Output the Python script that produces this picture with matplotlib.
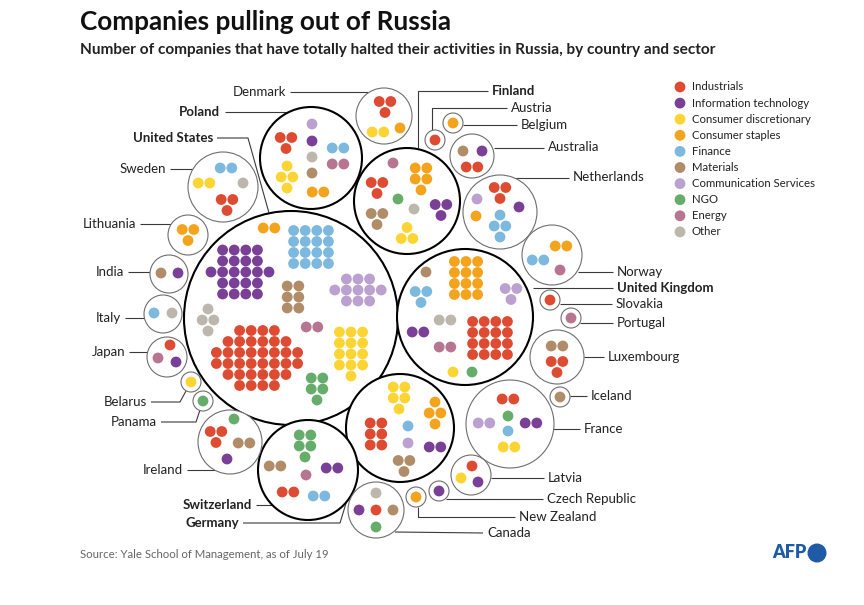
import matplotlib
matplotlib.use("Agg")
import matplotlib.pyplot as plt
from matplotlib.patches import Circle
import numpy as np

plt.rcParams['font.family'] = ['Lato', 'DejaVu Sans']

# ---------------- data ----------------
sectors = ["Industrials", "Information technology", "Consumer discretionary",
           "Consumer staples", "Finance", "Materials", "Communication Services",
           "NGO", "Energy", "Other"]
sector_colors = ["#dc4b32", "#7a3f96", "#fcd535", "#f4a31c", "#7db8de",
                 "#b18c69", "#baa1cf", "#66ad6b", "#b87591", "#bdb6ac"]

# counts per sector, in the order of `sectors`
#                 IND IT  CD  CS FIN MAT COM NGO EN OTH
united_states  = [36, 22, 13, 2, 16, 6, 11, 5, 2, 4]
united_kingdom = [16, 2, 1, 12, 3, 1, 3, 1, 2, 2]
poland         = [3, 1, 4, 2, 2, 1, 1, 0, 2, 1]
finland        = [3, 3, 3, 5, 0, 3, 0, 1, 1, 1]
germany        = [6, 2, 5, 4, 1, 3, 1, 0, 0, 0]
switzerland    = [2, 2, 0, 0, 2, 2, 0, 5, 1, 0]
denmark        = [3, 0, 2, 1, 0, 0, 0, 0, 0, 0]
sweden         = [3, 0, 2, 0, 2, 0, 0, 0, 0, 1]
lithuania      = [0, 0, 0, 3, 0, 0, 0, 0, 0, 0]
india          = [0, 1, 0, 0, 0, 1, 0, 0, 0, 0]
italy          = [0, 0, 0, 0, 1, 0, 0, 0, 0, 1]
japan          = [1, 1, 0, 0, 0, 0, 0, 0, 1, 0]
belarus        = [0, 0, 1, 0, 0, 0, 0, 0, 0, 0]
panama         = [0, 0, 0, 0, 0, 0, 0, 1, 0, 0]
ireland        = [3, 1, 0, 0, 0, 2, 0, 1, 0, 0]
austria        = [1, 0, 0, 0, 0, 0, 0, 0, 0, 0]
belgium        = [0, 0, 0, 1, 0, 0, 0, 0, 0, 0]
australia      = [2, 1, 0, 0, 0, 1, 0, 0, 0, 0]
netherlands    = [3, 1, 0, 1, 4, 0, 1, 0, 0, 0]
norway         = [0, 0, 0, 2, 2, 0, 0, 0, 1, 0]
slovakia       = [1, 0, 0, 0, 0, 0, 0, 0, 0, 0]
portugal       = [0, 0, 0, 0, 0, 0, 0, 0, 1, 0]
luxembourg     = [3, 0, 0, 0, 0, 2, 0, 0, 0, 0]
iceland        = [0, 0, 0, 0, 0, 1, 0, 0, 0, 0]
france         = [2, 2, 2, 0, 1, 0, 2, 1, 0, 0]
latvia         = [1, 1, 1, 0, 0, 0, 0, 0, 0, 0]
czech_republic = [0, 1, 0, 0, 0, 0, 0, 0, 0, 0]
new_zealand    = [0, 0, 0, 1, 0, 0, 0, 0, 0, 0]
canada         = [1, 1, 0, 0, 0, 1, 0, 1, 0, 1]

country_counts = {
    "United States": united_states, "United Kingdom": united_kingdom,
    "Poland": poland, "Finland": finland, "Germany": germany,
    "Switzerland": switzerland, "Denmark": denmark, "Sweden": sweden,
    "Lithuania": lithuania, "India": india, "Italy": italy, "Japan": japan,
    "Belarus": belarus, "Panama": panama, "Ireland": ireland,
    "Austria": austria, "Belgium": belgium, "Australia": australia,
    "Netherlands": netherlands, "Norway": norway, "Slovakia": slovakia,
    "Portugal": portugal, "Luxembourg": luxembourg, "Iceland": iceland,
    "France": france, "Latvia": latvia, "Czech Republic": czech_republic,
    "New Zealand": new_zealand, "Canada": canada,
}

# ---------------- layout (pixel space) ----------------
# country bubble: centre x, centre y, radius, main (bold) flag
bubbles = {
    "United States": (291, 318, 107, True),
    "United Kingdom": (465, 317, 68, True),
    "Poland": (311, 158, 51, True),
    "Finland": (407, 201, 53, True),
    "Germany": (400, 428, 54, True),
    "Switzerland": (308, 470, 50, True),
    "Denmark": (384, 116, 28, False),
    "Sweden": (223, 187, 35, False),
    "Lithuania": (188, 235, 20, False),
    "India": (169, 274, 19, False),
    "Italy": (163, 314, 19, False),
    "Japan": (167, 357, 20, False),
    "Belarus": (191, 382, 10, False),
    "Panama": (203, 401, 10, False),
    "Ireland": (230, 442, 32, False),
    "Austria": (435, 140, 10, False),
    "Belgium": (453, 123, 10, False),
    "Australia": (472, 156, 22, False),
    "Netherlands": (500, 212, 37, False),
    "Norway": (552, 255, 30, False),
    "Slovakia": (550, 300, 10, False),
    "Portugal": (571, 318, 10, False),
    "Luxembourg": (557, 357, 27, False),
    "Iceland": (560, 397, 10, False),
    "France": (510, 424, 44, False),
    "Latvia": (471, 475, 20, False),
    "Czech Republic": (439, 491, 10, False),
    "New Zealand": (416, 497, 10, False),
    "Canada": (376, 510, 28, False),
}

# cluster placement inside each bubble: sector index -> offset from centre
cluster_offsets = {
    "United States": {0: (-34, 40), 1: (-51, -46), 2: (60, 36), 3: (-22, -90),
                      4: (20, -71), 5: (2, -21), 6: (67, -28), 7: (26, 71),
                      8: (21, 9), 9: (-83, 2)},
    "United Kingdom": {0: (25, 21), 1: (-47, 15), 2: (-12, 55), 3: (1, -39),
                       4: (-44, -20), 5: (-39, -45), 6: (46, -23), 7: (7, 55),
                       8: (-20, 30), 9: (-20, 3)},
    "Poland": {0: (-25, -15), 1: (1, -17), 2: (-24, 19), 3: (7, 34),
               4: (27, -10), 5: (1, 15), 6: (1, -34), 8: (27, 6), 9: (1, -1)},
    "Finland": {0: (-30, -13), 1: (34, 9), 2: (0, 32), 3: (14, -22),
                5: (-30, 18), 7: (-9, -2), 8: (-14, -38), 9: (7, 8)},
    "Germany": {0: (-24, 6), 1: (35, 19), 2: (-1, -30), 3: (35, -15),
                4: (8, -2), 5: (4, 38), 6: (8, 15)},
    "Switzerland": {0: (-20, 22), 1: (24, -2), 4: (11, 26), 5: (-33, -4),
                    7: (-3, -24), 8: (-2, 5)},
    "Denmark": {0: (1, -9), 2: (-6, 16), 3: (16, 12)},
    "Sweden": {0: (4, 18), 2: (-19, -4), 4: (3, -19), 9: (20, -4)},
    "Lithuania": {3: (0, 0)},
    "India": {1: (9, -1), 5: (-8, -1)},
    "Italy": {4: (-9, -1), 9: (9, -1)},
    "Japan": {0: (3, -12), 1: (9, 5), 8: (-9, 1)},
    "Belarus": {2: (0, 0)},
    "Panama": {7: (0, 0)},
    "Ireland": {0: (-14, -5), 1: (-3, 17), 5: (14, 1), 7: (4, -23)},
    "Austria": {0: (0, 0)},
    "Belgium": {3: (0, 0)},
    "Australia": {0: (0, 11), 1: (10, -5), 5: (-9, -5)},
    "Netherlands": {0: (0, -19), 1: (19, -5), 3: (-24, 4), 4: (0, 14),
                    6: (-23, -13)},
    "Norway": {3: (9, -9), 4: (-14, 5), 8: (8, 15)},
    "Slovakia": {0: (0, 0)},
    "Portugal": {8: (0, 0)},
    "Luxembourg": {0: (0, 10), 5: (0, -11)},
    "Iceland": {5: (0, 0)},
    "France": {0: (-2, -25), 1: (21, -1), 2: (-1, 23), 4: (-2, 7),
               6: (-26, -1), 7: (-2, -8)},
    "Latvia": {0: (1, -9), 1: (7, 7), 2: (-10, 3)},
    "Czech Republic": {1: (0, 0)},
    "New Zealand": {3: (0, 0)},
    "Canada": {0: (0, 0), 1: (-17, 0), 5: (17, 0), 7: (0, 17), 9: (0, -17)},
}
flipped_clusters = {("Finland", 2)}

# row pattern used to pack n dots
row_patterns = {1: [1], 2: [2], 3: [2, 1], 4: [1, 2, 1], 5: [2, 2, 1],
                6: [2, 2, 2], 11: [3, 5, 3], 12: [3, 3, 3, 3],
                13: [3, 3, 3, 3, 1], 16: [4, 4, 4, 4], 22: [4, 4, 6, 4, 4],
                36: [4, 6, 8, 8, 6, 4]}

# labels: text, x, y, ha, leader polyline
labels = [
    ("Denmark", 286, 92, "right", [(290, 92), (368, 92)]),
    ("Poland", 220, 112, "right", [(225, 112), (289, 112)]),
    ("United States", 213, 138, "right", [(217, 138), (248, 138), (269, 213)]),
    ("Sweden", 166, 169, "right", [(170, 169), (193, 169)]),
    ("Lithuania", 136, 224, "right", [(140, 224), (171, 224)]),
    ("India", 124, 272, "right", [(128, 272), (150, 272)]),
    ("Italy", 121, 318, "right", [(125, 318), (145, 318)]),
    ("Japan", 125, 352, "right", [(129, 352), (148, 352)]),
    ("Belarus", 147, 402, "right", [(151, 402), (180, 402), (186, 391)]),
    ("Panama", 157, 422, "right", [(161, 422), (196, 422), (200, 410)]),
    ("Ireland", 183, 470, "right", [(187, 470), (215, 470)]),
    ("Switzerland", 252, 505, "right", [(256, 505), (272, 505)]),
    ("Germany", 239, 523, "right", [(243, 523), (340, 523), (358, 464)]),
    ("Finland", 492, 91, "left", [(418, 148), (418, 91), (488, 91)]),
    ("Austria", 511, 108, "left", [(432, 131), (432, 108), (507, 108)]),
    ("Belgium", 521, 125, "left", [(463, 125), (517, 125)]),
    ("Australia", 548, 147, "left", [(494, 148), (544, 148)]),
    ("Netherlands", 573, 177, "left", [(515, 178), (569, 178)]),
    ("Norway", 617, 272, "left", [(578, 272), (613, 272)]),
    ("United Kingdom", 617, 288, "left", [(533, 288), (613, 288)]),
    ("Slovakia", 616, 304, "left", [(560, 304), (612, 304)]),
    ("Portugal", 617, 323, "left", [(580, 323), (613, 323)]),
    ("Luxembourg", 608, 357, "left", [(584, 357), (604, 357)]),
    ("Iceland", 591, 396, "left", [(570, 396), (587, 396)]),
    ("France", 584, 429, "left", [(553, 429), (580, 429)]),
    ("Latvia", 548, 478, "left", [(491, 478), (544, 478)]),
    ("Czech Republic", 547, 499, "left", [(446, 499), (543, 499)]),
    ("New Zealand", 519, 517, "left", [(418, 507), (418, 517), (515, 517)]),
    ("Canada", 487, 533, "left", [(395, 532), (483, 533)]),
]

# ---------------- drawing ----------------
fig = plt.figure(figsize=(8.64, 6.05), dpi=100)
ax = fig.add_axes([0, 0, 1, 1])
ax.set_xlim(0, 864)
ax.set_ylim(605, 0)
ax.axis("off")

DOT_R = 5.4
DX = 11.6
DY = 11.0

def draw_cluster(cx, cy, n, color, flip=False):
    rows = list(row_patterns[n])
    if flip:
        rows = rows[::-1]
    nrows = len(rows)
    for i, k in enumerate(rows):
        y = cy + (i - (nrows - 1) / 2) * DY
        for j in range(k):
            x = cx + (j - (k - 1) / 2) * DX
            ax.add_patch(Circle((x, y), DOT_R, facecolor=color,
                                edgecolor="none", zorder=3))

for country, (cx, cy, r, main) in bubbles.items():
    ax.add_patch(Circle((cx, cy), r, facecolor="white",
                        edgecolor="black" if main else "#6e6e6e",
                        lw=1.5 if main else 0.8, zorder=2))
    counts = country_counts[country]
    for s, n in enumerate(counts):
        if n == 0:
            continue
        ox, oy = cluster_offsets[country][s]
        draw_cluster(cx + ox, cy + oy, n, sector_colors[s],
                     (country, s) in flipped_clusters)

for text, x, y, ha, pts in labels:
    xs, ys = zip(*pts)
    ax.plot(xs, ys, color="#3a3a3a", lw=0.8, zorder=1, solid_capstyle="butt")
    main = bubbles[text][3]
    ax.text(x, y, text, ha=ha, va="center", fontsize=9.5,
            fontweight="bold" if main else "normal", color="#222222")

# legend
for i, (name, col) in enumerate(zip(sectors, sector_colors)):
    y = 87 + i * 16.1
    ax.add_patch(Circle((680, y), DOT_R, facecolor=col, edgecolor="none"))
    ax.text(692, y, name, ha="left", va="center", fontsize=8.2, color="#222222")

# titles
ax.text(80, 22, "Companies pulling out of Russia", ha="left", va="center",
        fontsize=18.8, fontweight="bold", color="#111111")
ax.text(80, 50, "Number of companies that have totally halted their activities in Russia, by country and sector",
        ha="left", va="center", fontsize=11.1, fontweight="bold", color="#222222")
ax.text(80, 555, "Source: Yale School of Management, as of July 19", ha="left",
        va="center", fontsize=8.2, color="#666666")

# AFP logo
ax.text(806, 553, "AFP", ha="right", va="center", fontsize=13,
        fontweight="heavy", color="#1f5aa6")
ax.add_patch(Circle((817, 553), 9.5, facecolor="#1f5aa6", edgecolor="none"))

fig.savefig("out.png", dpi=100, facecolor="white")
